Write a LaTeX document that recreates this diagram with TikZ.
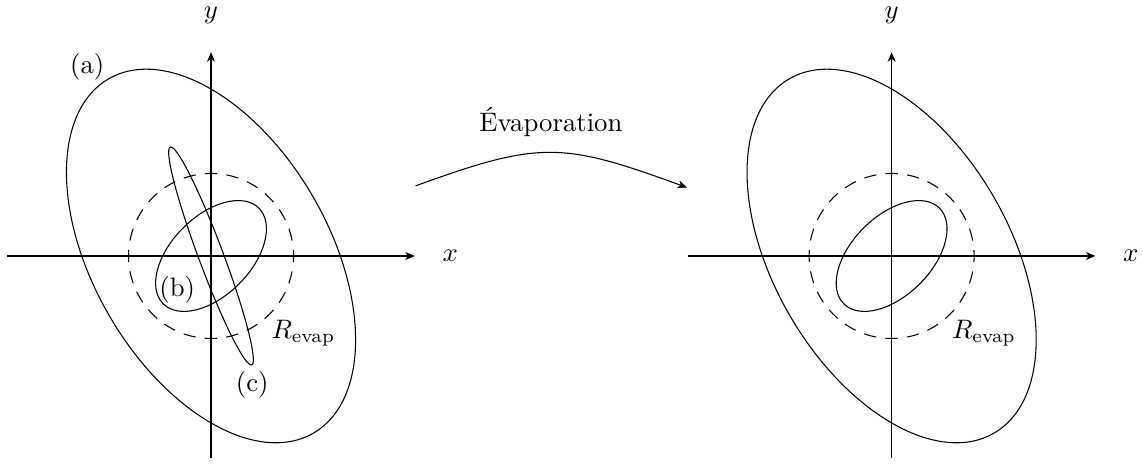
\documentclass[tikz,border=0pt]{standalone}
\usepackage{fontspec}
\usepackage{amsmath}
\usetikzlibrary{arrows.meta}

\tikzset{evapcircle/.style={dash pattern=on 4.6pt off 3.48pt, dash phase=2.3pt}}

\begin{document}
\begin{tikzpicture}[>={Stealth[length=3.6pt,width=3pt]}, x=1.085cm, y=1.085cm]
    \useasboundingbox (-2.558,-2.521) rectangle (11.297,3.103);
    % Both panels: axes, evaporation radius, ellipses (a) and (b)
    \foreach \s/\nm in {0/L, 8.25/R} {
      \begin{scope}[shift={(\s,0)}]
        \coordinate (xa\nm) at (-2.47,0);
        \coordinate (xb\nm) at (2.47,0);
        \coordinate (ya\nm) at (0,-2.45);
        \coordinate (yb\nm) at (0,2.47);
        \draw[->] (xa\nm) -- (xb\nm);
        \draw[->] (ya\nm) -- (yb\nm);
        \node (xlab\nm) at (2.9,0) {$x$};
        \node (ylab\nm) at (0,2.92) {$y$};
        % Evaporation radius
        \draw[evapcircle] (0,0) circle (1);
        \node (rev\nm) at (1.12,-0.93) {$R_{\text{evap}}$};
        % Ellipses
        \draw[rotate=120] (0,0) ellipse (2.48 and 1.43);
        \draw[rotate=45] (0,0) ellipse (0.82 and 0.48);
      \end{scope}
    }
    % Ellipse (c), left only
    \draw[rotate=110.5] (0,0) ellipse (1.41 and 0.15);
    \node (lba) at (-1.50,2.29) {(a)};
    \node (lbb) at (-0.41,-0.41) {(b)};
    \node (lbc) at (0.50,-1.56) {(c)};
    % Evaporation arrow
    \coordinate (evs) at (2.48,0.85);
    \coordinate (eve) at (5.77,0.83);
    \draw[->] (evs) to[out=20, in=160, looseness=1.25] (eve);
    \node (evap) at (4.12,1.62) {Évaporation};
\end{tikzpicture}
\end{document}
